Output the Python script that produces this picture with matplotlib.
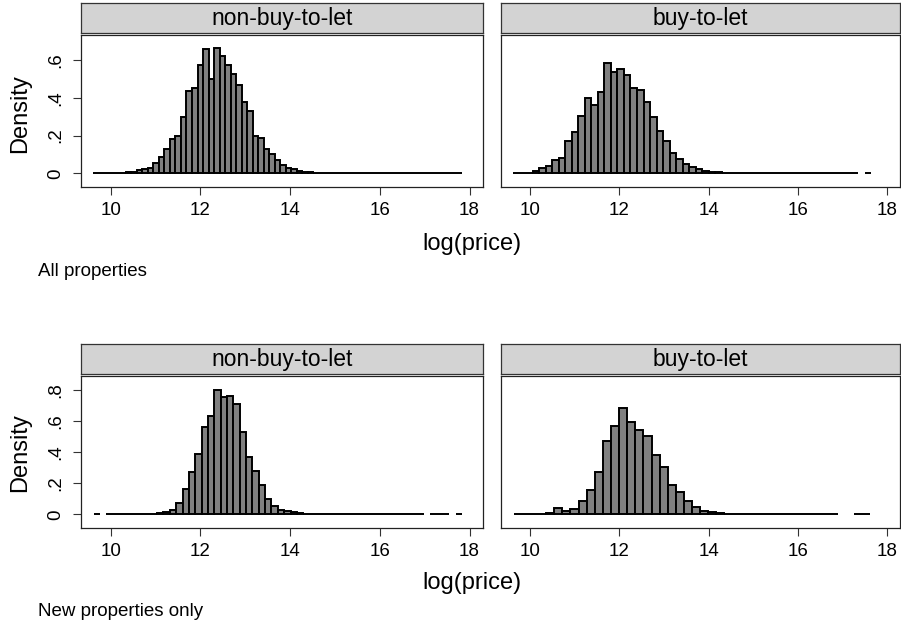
# -*- coding: utf-8 -*-
"""
Histograms of log(price) by buy-to-let status, all properties and new
properties only (Stata-like by() layout).
"""
import numpy as np
import matplotlib
matplotlib.use("Agg")
import matplotlib.pyplot as plt

# Histogram densities (one value per bin, 0 = empty bin)
nbtl_all = [0.001, 0.001, 0.001, 0.001, 0.002, 0.003, 0.005, 0.008, 0.016,
            0.025, 0.030, 0.055, 0.088, 0.130, 0.182, 0.200, 0.298, 0.438,
            0.452, 0.574, 0.656, 0.497, 0.662, 0.620, 0.575, 0.527, 0.470,
            0.376, 0.332, 0.200, 0.187, 0.131, 0.101, 0.072, 0.044, 0.026,
            0.023, 0.012, 0.008, 0.005, 0.004, 0.003, 0.003, 0.002, 0.002,
            0.002, 0.002, 0.001, 0.001, 0.001, 0.001, 0.001, 0.001, 0.001,
            0.001, 0.001, 0.001, 0.001, 0.001, 0.001, 0.001, 0.001, 0.001,
            0.001, 0.001, 0.001, 0.001]
btl_all = [0.002, 0.002, 0.004, 0.011, 0.026, 0.037, 0.071, 0.081, 0.171,
           0.220, 0.303, 0.397, 0.362, 0.430, 0.586, 0.538, 0.550, 0.520,
           0.453, 0.440, 0.377, 0.298, 0.226, 0.169, 0.109, 0.078, 0.049,
           0.034, 0.021, 0.012, 0.008, 0.005, 0.004, 0.003, 0.002, 0.002,
           0.002, 0.001, 0.001, 0.001, 0.001, 0.001, 0.001, 0.001, 0.001,
           0.001, 0.001, 0.001, 0.001, 0.001, 0.001, 0.001, 0.001, 0.0,
           0.001]
nbtl_new = [0.001, 0.0, 0.001, 0.001, 0.001, 0.001, 0.001, 0.002, 0.003,
            0.005, 0.008, 0.013, 0.030, 0.073, 0.166, 0.271, 0.387, 0.563,
            0.632, 0.800, 0.757, 0.761, 0.710, 0.529, 0.370, 0.280, 0.189,
            0.099, 0.056, 0.030, 0.019, 0.013, 0.008, 0.005, 0.004, 0.003,
            0.002, 0.002, 0.002, 0.001, 0.001, 0.001, 0.001, 0.001, 0.001,
            0.001, 0.001, 0.001, 0.001, 0.001, 0.001, 0.001, 0.0, 0.001,
            0.001, 0.001, 0.0, 0.001]
btl_new = [0.002, 0.002, 0.001, 0.002, 0.011, 0.039, 0.019, 0.034, 0.084,
           0.155, 0.275, 0.471, 0.568, 0.684, 0.598, 0.542, 0.503, 0.381,
           0.308, 0.187, 0.142, 0.084, 0.047, 0.024, 0.013, 0.007, 0.004,
           0.003, 0.002, 0.002, 0.001, 0.001, 0.001, 0.001, 0.001, 0.001,
           0.001, 0.001, 0.001, 0.001, 0.0, 0.0, 0.001, 0.001]

# Lowest and highest log(price) covered by each histogram
nbtl_all_range = (9.60, 17.84)
btl_all_range = (9.62, 17.65)
nbtl_new_range = (9.62, 17.835)
btl_new_range = (9.626, 17.634)

panel_titles = ["non-buy-to-let", "buy-to-let"]
row_notes = ["All properties", "New properties only"]
x_ticks = [10, 12, 14, 16, 18]
y_ticks_all = [0, 0.2, 0.4, 0.6]
y_labels_all = ["0", ".2", ".4", ".6"]
y_ticks_new = [0, 0.2, 0.4, 0.6, 0.8]
y_labels_new = ["0", ".2", ".4", ".6", ".8"]

W, H = 901, 627


def px_axes(fig, left, top, right, bottom):
    '''Add an axes given its box in pixels measured from the top left.'''
    return fig.add_axes([left / W, 1 - bottom / H,
                         (right - left) / W, (bottom - top) / H])


def draw_panel(fig, box, heights, value_range, title, ylim, yticks,
               ylabels, show_y):
    '''One histogram with its grey title strip above it.'''
    left, top, right, bottom = box

    # Title strip
    strip = px_axes(fig, left, top - 32, right, top - 2)
    strip.set_facecolor("#d3d3d3")
    strip.set_xticks([])
    strip.set_yticks([])
    for sp in strip.spines.values():
        sp.set_color("#333333")
        sp.set_linewidth(0.9)
    strip.text(0.5, 0.47, title, ha="center", va="center", fontsize=16.5,
               transform=strip.transAxes)

    # Histogram bars from the bin densities
    ax = px_axes(fig, left, top, right, bottom)
    edges = np.linspace(value_range[0], value_range[1], len(heights) + 1)
    h = np.array(heights)
    keep = h > 0
    ax.bar(edges[:-1][keep], h[keep], width=np.diff(edges)[keep],
           align="edge", color="#808080", edgecolor="black", linewidth=1.4)

    ax.set_xlim(9.34, 18.30)
    ax.set_ylim(ylim)
    ax.set_xticks(x_ticks)
    ax.set_xticklabels([str(t) for t in x_ticks])
    ax.tick_params(axis="x", length=6, width=0.8, labelsize=13.5, pad=5,
                   color="#333333")
    if show_y:
        ax.set_yticks(yticks)
        ax.set_yticklabels(ylabels, rotation=90, va="center")
        ax.tick_params(axis="y", length=6, width=0.8, labelsize=13.5,
                       pad=6, color="#333333")
    else:
        ax.set_yticks([])
    for sp in ax.spines.values():
        sp.set_color("#222222")
        sp.set_linewidth(0.9)


def main():
    plt.rcParams["font.family"] = ["Liberation Sans", "DejaVu Sans"]
    fig = plt.figure(figsize=(W / 100, H / 100), dpi=100)

    # Top row: all properties
    draw_panel(fig, (81, 35, 483, 187), nbtl_all, nbtl_all_range,
               panel_titles[0], (-0.072, 0.732), y_ticks_all, y_labels_all,
               True)
    draw_panel(fig, (501, 35, 900, 187), btl_all, btl_all_range,
               panel_titles[1], (-0.072, 0.732), y_ticks_all, y_labels_all,
               False)

    # Bottom row: new properties only
    draw_panel(fig, (81, 376, 483, 528), nbtl_new, nbtl_new_range,
               panel_titles[0], (-0.088, 0.892), y_ticks_new, y_labels_new,
               True)
    draw_panel(fig, (501, 376, 900, 528), btl_new, btl_new_range,
               panel_titles[1], (-0.088, 0.892), y_ticks_new, y_labels_new,
               False)

    # Axis titles and notes
    for y_lab, y_den, y_note, note in zip([244, 583], [114, 453],
                                          [272, 611], row_notes):
        fig.text(472 / W, 1 - y_lab / H, "log(price)", ha="center",
                 va="center", fontsize=17)
        fig.text(20 / W, 1 - y_den / H, "Density", ha="center",
                 va="center", rotation=90, fontsize=17)
        fig.text(38 / W, 1 - y_note / H, note, ha="left", va="center",
                 fontsize=13.5)

    fig.savefig("out.png", dpi=100)


if __name__ == "__main__":
    main()
